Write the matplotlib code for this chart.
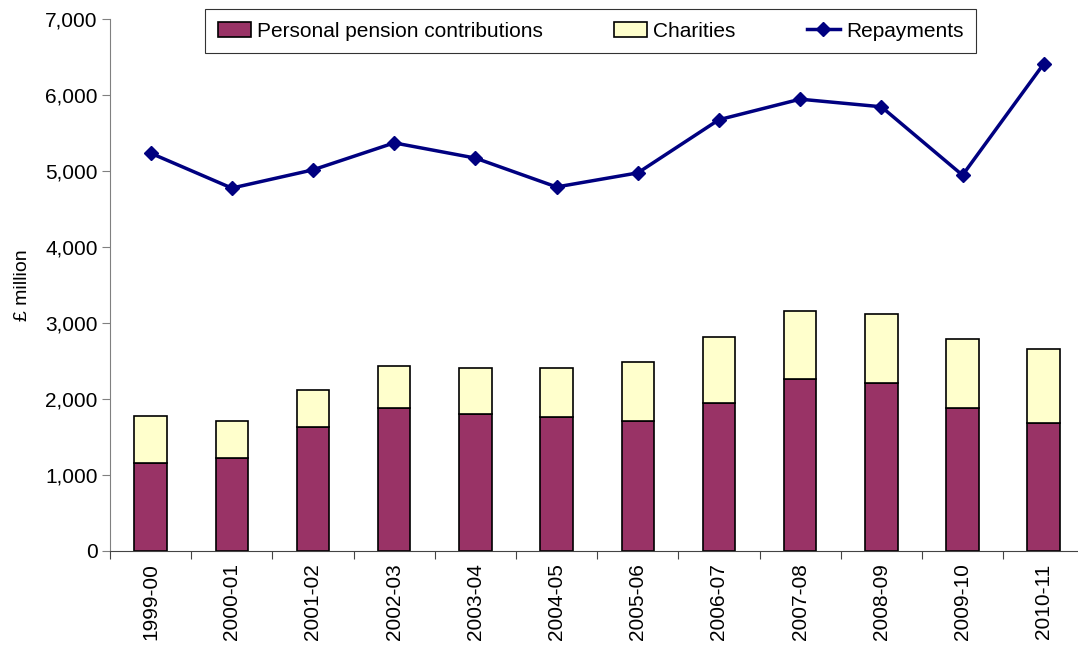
import numpy as np
import matplotlib
matplotlib.use("Agg")
import matplotlib.pyplot as plt
from matplotlib.ticker import FuncFormatter, FixedLocator

plt.rcParams['font.family'] = ['Liberation Sans', 'DejaVu Sans']

# Dados
anos = ['1999-00', '2000-01', '2001-02', '2002-03', '2003-04', '2004-05',
        '2005-06', '2006-07', '2007-08', '2008-09', '2009-10', '2010-11']
pensoes = [1160, 1225, 1630, 1880, 1800, 1760, 1710, 1950, 2265, 2210, 1880, 1685]
caridade = [620, 490, 485, 550, 605, 645, 775, 865, 890, 905, 915, 975]
reembolsos = [5235, 4775, 5015, 5370, 5170, 4790, 4975, 5675, 5945, 5845, 4945, 6410]

x = np.arange(len(anos))

fig = plt.figure(figsize=(10.78, 6.45), dpi=100)
ax = fig.add_axes([110 / 1078, 1 - 551 / 645, (1077 - 110) / 1078, (551 - 19) / 645])

largura = 0.4
b1 = ax.bar(x, pensoes, largura, color='#993366', edgecolor='black', linewidth=1.2,
            label='Personal pension contributions', zorder=2)
b2 = ax.bar(x, caridade, largura, bottom=pensoes, color='#FFFFCC', edgecolor='black',
            linewidth=1.2, label='Charities', zorder=2)
l1, = ax.plot(x, reembolsos, color='#000080', marker='D', markersize=7.5, linewidth=2.5,
              label='Repayments', zorder=3)

ax.set_xlim(-0.5, 11.41)
ax.set_ylim(0, 7000)
ax.set_yticks(range(0, 7001, 1000))
ax.yaxis.set_major_formatter(FuncFormatter(lambda v, p: f'{int(v):,}'))
ax.set_ylabel('£ million', fontsize=14, labelpad=10)

# Ticks do eixo x entre categorias
ax.xaxis.set_major_locator(FixedLocator(np.arange(-0.5, 11.6, 1.0)))
ax.xaxis.set_minor_locator(FixedLocator(x))
ax.set_xticklabels([])
ax.set_xticklabels(anos, minor=True, rotation=90, fontsize=15)
ax.tick_params(axis='x', which='major', length=6, direction='out', color='#444444')
ax.tick_params(axis='x', which='minor', length=0, pad=9)
ax.tick_params(axis='y', length=6, direction='out', color='#808080', labelsize=15, pad=3)

for s in ['top', 'right']:
    ax.spines[s].set_visible(False)
ax.spines['left'].set_color('#808080')
ax.spines['bottom'].set_color('#444444')

leg = ax.legend([b1, b2, l1], ['Personal pension contributions', 'Charities', 'Repayments'],
                loc='upper center', bbox_to_anchor=(0.497, 1.038), ncol=3, fontsize=15,
                frameon=True, fancybox=False, edgecolor='black', handlelength=1.6,
                columnspacing=3.4, handletextpad=0.3, borderpad=0.6)
leg.get_frame().set_linewidth(0.8)

plt.savefig('out.png', dpi=100)
plt.close()
